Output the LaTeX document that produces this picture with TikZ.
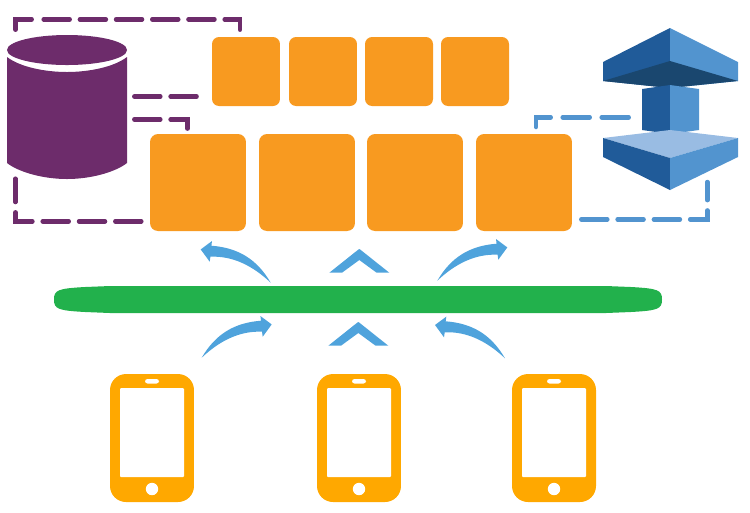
\documentclass[tikz,border=0pt]{standalone}
\definecolor{orangebox}{HTML}{F89A20}
\definecolor{dbpurple}{HTML}{6D2C6B}
\definecolor{barblue}{HTML}{4FA3DC}
\definecolor{barfill}{HTML}{22B14C}
\definecolor{phonefill}{HTML}{FFA800}
\definecolor{awsdark}{HTML}{205B99}
\definecolor{awslight}{HTML}{5294CF}
\definecolor{awsdeep}{HTML}{1A476F}
\definecolor{awspale}{HTML}{99BCE3}
\tikzset{
    bigbox/.style={fill=orangebox, rounded corners=0.16cm, minimum width=1.92cm, minimum height=1.94cm, inner sep=0},
    smallbox/.style={fill=orangebox, rounded corners=0.14cm, minimum width=1.36cm, minimum height=1.38cm, inner sep=0},
    dbline/.style={draw=dbpurple, line width=0.09cm, line cap=round, dash pattern=on 0.52cm off 0.206cm},
    awsline/.style={draw=awslight, line width=0.09cm, line cap=round, dash pattern=on 0.52cm off 0.206cm},
    phone/.style={fill=phonefill, rounded corners=0.32cm, minimum width=1.68cm, minimum height=2.56cm, inner sep=0},
    bentarrow/.pic={
        \fill [barblue] (0,0) .. controls (14,-24) and (33,-35) .. (59.3,-37)
            -- (58.7,-41.7) -- (70,-33.3) -- (61,-21) -- (60.3,-26)
            .. controls (38,-27) and (18,-17) .. (0,0) -- cycle;
    },
    chevron/.pic={
        \fill [barblue] (-30,23.7) -- (-1.5,1) -- (0,0) -- (1.5,1) -- (30,23.7) -- (17.3,23.7) -- (0,11) -- (-17.3,23.7) -- cycle;
    }
}
\begin{document}
\begin{tikzpicture}[x=0.02cm, y=-0.02cm]
    \useasboundingbox (0, 0) rectangle (750, 512);

    \node [smallbox] at (246, 71.5) (U1) {};
    \node [smallbox] at (323, 71.5) (U2) {};
    \node [smallbox] at (399, 71.5) (U3) {};
    \node [smallbox] at (475, 71.5) (U4) {};
    \node [bigbox] at (198, 182.5) (L1) {};
    \node [bigbox] at (307, 182.5) (L2) {};
    \node [bigbox] at (415, 182.5) (L3) {};
    \node [bigbox] at (524, 182.5) (L4) {};

    % bar
    \fill [barfill] (54, 299.5) .. controls (54, 290) and (58, 288.5) .. (85, 287)
        -- (110, 286) -- (606, 286) -- (631, 287)
        .. controls (658, 288.5) and (662, 290) .. (662, 299.5)
        .. controls (662, 309) and (658, 310.5) .. (631, 312)
        -- (606, 313) -- (110, 313) -- (85, 312)
        .. controls (58, 310.5) and (54, 309) .. (54, 299.5) -- cycle;
    \node [minimum width=12.16cm, minimum height=0.54cm, inner sep=0] at (358, 299.5) (BAR) {};

    % database
    \fill [dbpurple] (7, 50) arc [start angle=180, end angle=-180, x radius=60, y radius=15] -- cycle;
    \fill [dbpurple] (7, 57) .. controls (20, 67) and (45, 72) .. (67, 72)
        .. controls (89, 72) and (114, 67) .. (127, 57)
        -- (127, 163) .. controls (114, 173) and (89, 179) .. (67, 179)
        .. controls (45, 179) and (20, 173) .. (7, 163) -- cycle;
    \node [minimum width=2.4cm, minimum height=2.88cm, inner sep=0] at (67, 107) (DB) {};

    % scaling group
    \fill [awsdark] (670, 28) -- (603, 62) -- (603, 81) -- (670, 88) -- cycle;
    \fill [awslight] (670, 28) -- (738, 62) -- (738, 81) -- (670, 88) -- cycle;
    \fill [awsdeep] (603, 81) -- (670, 61) -- (738, 81) -- (670, 88) -- cycle;
    \fill [awsdark] (670, 85) -- (642, 89) -- (642, 130) -- (670, 134) -- cycle;
    \fill [awslight] (670, 85) -- (699, 89) -- (699, 130) -- (670, 134) -- cycle;
    \fill [awspale] (603, 138) -- (670, 130) -- (738, 138) -- (670, 158) -- cycle;
    \fill [awsdark] (603, 138) -- (670, 158) -- (670, 190) -- (603, 157) -- cycle;
    \fill [awslight] (738, 138) -- (670, 158) -- (670, 190) -- (738, 157) -- cycle;
    \node [minimum width=2.7cm, minimum height=3.24cm, inner sep=0] at (670.5, 109) (AWS) {};

    % phones
    \foreach \name/\x in {P1/152, P2/359, P3/554} {
        \node [phone] at (\x, 438) (\name) {};
        \fill [white, rounded corners=0.02cm] (\x-32, 388) rectangle (\x+32, 477);
        \fill [white, rounded corners=0.05cm] (\x-7, 379) rectangle (\x+7, 383.5);
        \fill [white] (\x, 489) circle [radius=6.2];
    }

    % free ends of the dashed lines
    \coordinate (DBtop) at (15.5, 29.7);
    \coordinate (Utop) at (240, 29.7);
    \coordinate (DBmid) at (134.3, 96.5);
    \coordinate (Umid) at (198, 96.5);
    \coordinate (DBlow) at (134.3, 119.4);
    \coordinate (Ltop) at (187.4, 129.7);
    \coordinate (DBbot) at (15.4, 178.7);
    \coordinate (Lleft) at (141.3, 221.3);
    \coordinate (AWSmid) at (628.7, 117.3);
    \coordinate (Lfour) at (536, 127);
    \coordinate (Lright) at (581.3, 219.3);
    \coordinate (AWSbot) at (707.3, 182);

    \path [dbline, dash pattern=on 0.532cm off 0.24cm on 0.52cm off 0.204cm on 0.52cm off 0.204cm on 0.52cm off 0.204cm on 0.52cm off 0.204cm on 0.52cm off 0.204cm on 2cm off 1cm]
        (DBtop) -- (DBtop |- 0, 19.3) -- (Utop |- 0, 19.3) -- (Utop);
    \path [dbline] (DBmid) -- (Umid);
    \path [dbline] (DBlow) -| (Ltop);
    \path [dbline] (Lleft) -| (DBbot);
    \path [awsline, dash pattern=on 0.54cm off 0.24cm] (AWSmid) -| (Lfour);
    \path [awsline] (Lright) -| (AWSbot);

    % arrows on both sides of the bar
    \path (201.7, 357.7) pic {bentarrow};
    \path (505, 358.3) pic [xscale=-1] {bentarrow};
    \path (270.7, 282.7) pic [xscale=-1] {bentarrow};
    \path (437.3, 280.7) pic {bentarrow};
    \path (359.3, 249) pic {chevron};
    \path (358.3, 322) pic {chevron};
\end{tikzpicture}
\end{document}
